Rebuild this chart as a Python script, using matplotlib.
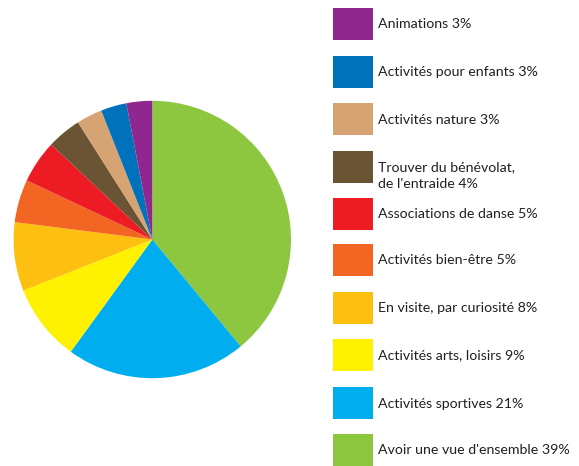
import matplotlib
matplotlib.use("Agg")
import matplotlib.pyplot as plt
from matplotlib.patches import Rectangle

labels = ["Avoir une vue d'ensemble", "Activités sportives", "Activités arts, loisirs",
          "En visite, par curiosité", "Activités bien-être", "Associations de danse",
          "Trouver du bénévolat,\nde l'entraide", "Activités nature",
          "Activités pour enfants", "Animations"]
values = [39, 21, 9, 8, 5, 5, 4, 3, 3, 3]
colors = ["#8DC63F", "#00AEEF", "#FFF200", "#FDC010", "#F26522", "#ED1C24",
          "#6B5433", "#D6A373", "#0071BB", "#8E288F"]

W, H = 579, 466
fig = plt.figure(figsize=(W / 100, H / 100), dpi=100)
cx, cy, r = 152.3, 239.5, 138.7
ax = fig.add_axes([(cx - r) / W, (H - cy - r) / H, 2 * r / W, 2 * r / H])
ax.pie(values, colors=colors, startangle=90, counterclock=False,
       wedgeprops=dict(linewidth=0))
ax.set_xlim(-1, 1)
ax.set_ylim(-1, 1)
ax.set_aspect("equal")
ax.axis("off")

lax = fig.add_axes([0, 0, 1, 1])
lax.set_xlim(0, W)
lax.set_ylim(H, 0)
lax.axis("off")
tops = [8, 56, 103, 151, 198, 244, 292, 339, 387, 434]
fs = 10.15
fam = "Lato"
tc = "#231F20"
for i, top in enumerate(tops):
    idx = len(values) - 1 - i
    lax.add_patch(Rectangle((333, top), 40, 32, facecolor=colors[idx], edgecolor="none"))
    lab = labels[idx]
    txt = f"{lab} {values[idx]}%"
    if "\n" in lab:
        l1, l2 = txt.split("\n")
        lax.text(378.5, top + 16.5, l1, va="center", ha="left", fontsize=fs,
                 color=tc, family=fam)
        lax.text(378.5, top + 33.5, l2, va="center", ha="left", fontsize=fs,
                 color=tc, family=fam)
    else:
        lax.text(378.5, top + 16.5, txt, va="center", ha="left", fontsize=fs,
                 color=tc, family=fam)

fig.savefig("out.png", dpi=100)
